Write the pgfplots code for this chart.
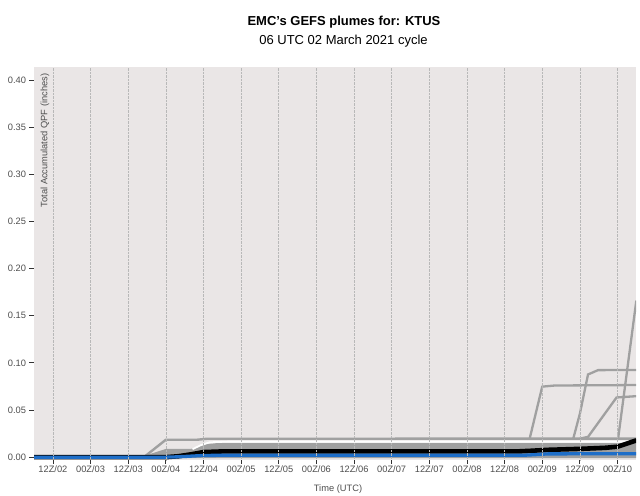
\documentclass[border=0pt]{standalone}
\usepackage{pgfplots}
\pgfplotsset{compat=1.18}
\usepackage{fontspec}
\setmainfont{Liberation Sans}
\definecolor{panelbg}{RGB}{234,230,230}
\definecolor{memgray}{RGB}{160,160,160}
\definecolor{meanblue}{RGB}{30,110,200}
\definecolor{txtgray}{RGB}{77,77,77}
\begin{document}
\begin{tikzpicture}
\path[use as bounding box] (0,0) rectangle (640bp,496bp);
\node[anchor=base, font=\bfseries\fontsize{13bp}{15bp}\selectfont] at (344bp,470.7bp) {EMC\symbol{39}s GEFS plumes for: KTUS};
\node[anchor=base, font=\fontsize{13bp}{15bp}\selectfont] at (343.5bp,451.3bp) {06 UTC 02 March 2021 cycle};
\node[anchor=base, font=\fontsize{9.3bp}{11bp}\selectfont, text=txtgray] at (338bp,4.5bp) {Time (UTC)};
\begin{axis}[
  at={(33.5bp,36bp)}, anchor=south west,
  scale only axis, width=602.5bp, height=393.3bp,
  xmin=-6.2, xmax=185.9, ymin=-0.003, ymax=0.4141,
  axis background/.style={fill=panelbg},
  axis line style={draw=none},
  axis on top,
  xtick={0,12,...,180},
  xticklabels={12Z/02,00Z/03,12Z/03,00Z/04,12Z/04,00Z/05,12Z/05,00Z/06,12Z/06,00Z/07,12Z/07,00Z/08,12Z/08,00Z/09,12Z/09,00Z/10},
  ytick={0,0.05,...,0.401},
  xtick pos=bottom, ytick pos=left,
  tick align=outside, major tick length=4bp,
  tick style={color=black!80, line width=0.8bp},
  xmajorgrids, grid style={densely dotted, color=black!28, line width=0.6bp},
  ticklabel style={font=\fontsize{9.3bp}{11bp}\selectfont, text=txtgray},
  xticklabel style={yshift=1.5bp},
  yticklabel style={/pgf/number format/.cd, fixed, fixed zerofill, precision=2, assume math mode=true},
  ylabel={Total Accumulated QPF (inches)},
  ylabel style={at={(rel axis cs:0.0191,0.991)}, anchor=east, font=\fontsize{9.3bp}{11bp}\selectfont, text=txtgray},
]
% dense member band
\addplot[draw=none, fill=memgray] coordinates {(-6,0) (30,0) (36,0.0075) (44,0.0075) (47,0.011) (49,0.0138) (52,0.0148) (186,0.0148) (186,-0.001) (-6,-0.001)} \closedcycle;
% upper member
\addplot[memgray, line width=2.4bp] coordinates {(-6,0) (29,0) (36,0.0185) (46,0.0185) (49,0.0195) (186,0.0197)};
% box lower edge
\addplot[memgray, line width=2.2bp] coordinates {(29,0) (36,0.0075) (44,0.0075) (47,0.011) (49,0.0138)};
% late members
\addplot[memgray, line width=2.3bp] coordinates {(152,0.0197) (156,0.0748) (160,0.0760) (186,0.0765)};
\addplot[memgray, line width=2.3bp] coordinates {(165.9,0.0197) (168,0.046) (170.6,0.0877) (173.8,0.0923) (186,0.0925)};
\addplot[memgray, line width=2.3bp] coordinates {(168,0.0197) (170.6,0.0215) (179.7,0.0633) (186,0.0647)};
\addplot[memgray, line width=2.3bp] coordinates {(180.2,0.0197) (186,0.166)};
% white member
\addplot[white, line width=1.8bp] coordinates {(44.5,0.0085) (47,0.0125) (50,0.0158) (56,0.0165) (186,0.0165)};
% zero members
\addplot[memgray, line width=2.2bp] coordinates {(-6,0) (186,0)};
% ensemble mean (black)
\addplot[black, line width=4.6bp] coordinates {(-6,0) (36,0) (40,0.001) (44,0.003) (48,0.0054) (54,0.0061) (148,0.0061) (152,0.0067) (158,0.0078) (168,0.0088) (176,0.0099) (180,0.0111) (186,0.0178)};
% control (blue)
\addplot[meanblue, line width=3.3bp] coordinates {(-6,0) (36,0) (40,0.0004) (44,0.0011) (48,0.0018) (54,0.0020) (150,0.0020) (154,0.0027) (158,0.0035) (186,0.0036)};
\end{axis}
\end{tikzpicture}
\end{document}
